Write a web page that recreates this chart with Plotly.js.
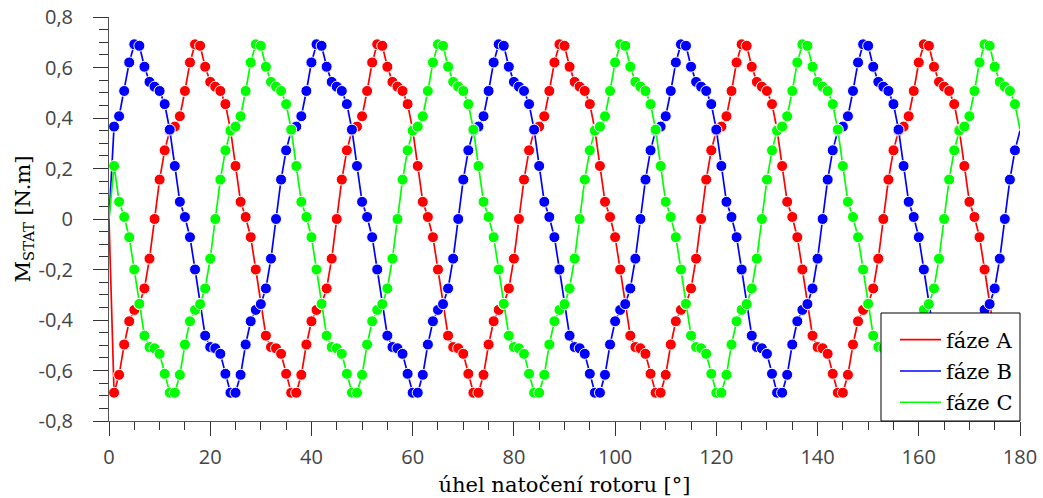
<!DOCTYPE html>
<html>
<head>
<meta charset="utf-8">
<script src="https://cdn.plot.ly/plotly-3.0.1.min.js"></script>
<style>html,body{margin:0;padding:0;background:#fff;}#chart{width:1043px;height:498px;}</style>
</head>
<body>
<div id="chart"></div>
<script>
// rotor angle samples [deg]
const angleDeg = Array.from({length: 181}, (_, i) => i);

// static torque of phase A [N.m]
const phaseA = [0,
 -0.688,-0.617,-0.497,-0.405,-0.360,-0.337,-0.275,-0.157,0.000,0.156,0.272,0.350,0.366,0.407,0.507,0.620,0.692,0.686,0.603,0.543,0.524,0.507,0.455,0.354,0.210,0.068,0.008,-0.072,-0.200,-0.336,-0.462,-0.507,-0.512,-0.534,-0.613,
 -0.688,-0.688,-0.617,-0.497,-0.405,-0.360,-0.337,-0.275,-0.157,0.000,0.156,0.272,0.350,0.366,0.407,0.507,0.620,0.692,0.686,0.603,0.543,0.524,0.507,0.455,0.354,0.210,0.068,0.008,-0.072,-0.200,-0.336,-0.462,-0.507,-0.512,-0.534,-0.613,
 -0.688,-0.688,-0.617,-0.497,-0.405,-0.360,-0.337,-0.275,-0.157,0.000,0.156,0.272,0.350,0.366,0.407,0.507,0.620,0.692,0.686,0.603,0.543,0.524,0.507,0.455,0.354,0.210,0.068,0.008,-0.072,-0.200,-0.336,-0.462,-0.507,-0.512,-0.534,-0.613,
 -0.688,-0.688,-0.617,-0.497,-0.405,-0.360,-0.337,-0.275,-0.157,0.000,0.156,0.272,0.350,0.366,0.407,0.507,0.620,0.692,0.686,0.603,0.543,0.524,0.507,0.455,0.354,0.210,0.068,0.008,-0.072,-0.200,-0.336,-0.462,-0.507,-0.512,-0.534,-0.613,
 -0.688,-0.688,-0.617,-0.497,-0.405,-0.360,-0.337,-0.275,-0.157,0.000,0.156,0.272,0.350,0.366,0.407,0.507,0.620,0.692,0.686,0.603,0.543,0.524,0.507,0.455,0.354,0.210,0.068,0.008,-0.072,-0.200,-0.336,-0.462,-0.507,-0.512,-0.534,-0.613,
 -0.688];

// static torque of phase B [N.m]
const phaseB = [0,
 0.366,0.407,0.507,0.620,0.692,0.686,0.603,0.543,0.524,0.507,0.455,0.354,0.210,0.068,0.008,-0.072,-0.200,-0.336,-0.462,-0.507,-0.512,-0.534,-0.613,
 -0.688,-0.688,-0.617,-0.497,-0.405,-0.360,-0.337,-0.275,-0.157,0.000,0.156,0.272,0.350,0.366,0.407,0.507,0.620,0.692,0.686,0.603,0.543,0.524,0.507,0.455,0.354,0.210,0.068,0.008,-0.072,-0.200,-0.336,-0.462,-0.507,-0.512,-0.534,-0.613,
 -0.688,-0.688,-0.617,-0.497,-0.405,-0.360,-0.337,-0.275,-0.157,0.000,0.156,0.272,0.350,0.366,0.407,0.507,0.620,0.692,0.686,0.603,0.543,0.524,0.507,0.455,0.354,0.210,0.068,0.008,-0.072,-0.200,-0.336,-0.462,-0.507,-0.512,-0.534,-0.613,
 -0.688,-0.688,-0.617,-0.497,-0.405,-0.360,-0.337,-0.275,-0.157,0.000,0.156,0.272,0.350,0.366,0.407,0.507,0.620,0.692,0.686,0.603,0.543,0.524,0.507,0.455,0.354,0.210,0.068,0.008,-0.072,-0.200,-0.336,-0.462,-0.507,-0.512,-0.534,-0.613,
 -0.688,-0.688,-0.617,-0.497,-0.405,-0.360,-0.337,-0.275,-0.157,0.000,0.156,0.272,0.350,0.366,0.407,0.507,0.620,0.692,0.686,0.603,0.543,0.524,0.507,0.455,0.354,0.210,0.068,0.008,-0.072,-0.200,-0.336,-0.462,-0.507,-0.512,-0.534,-0.613,
 -0.688,-0.688,-0.617,-0.497,-0.405,-0.360,-0.337,-0.275,-0.157,0.000,0.156,0.272,0.350];

// static torque of phase C [N.m]
const phaseC = [0,
 0.210,0.068,0.008,-0.072,-0.200,-0.336,-0.462,-0.507,-0.512,-0.534,-0.613,
 -0.688,-0.688,-0.617,-0.497,-0.405,-0.360,-0.337,-0.275,-0.157,0.000,0.156,0.272,0.350,0.366,0.407,0.507,0.620,0.692,0.686,0.603,0.543,0.524,0.507,0.455,0.354,0.210,0.068,0.008,-0.072,-0.200,-0.336,-0.462,-0.507,-0.512,-0.534,-0.613,
 -0.688,-0.688,-0.617,-0.497,-0.405,-0.360,-0.337,-0.275,-0.157,0.000,0.156,0.272,0.350,0.366,0.407,0.507,0.620,0.692,0.686,0.603,0.543,0.524,0.507,0.455,0.354,0.210,0.068,0.008,-0.072,-0.200,-0.336,-0.462,-0.507,-0.512,-0.534,-0.613,
 -0.688,-0.688,-0.617,-0.497,-0.405,-0.360,-0.337,-0.275,-0.157,0.000,0.156,0.272,0.350,0.366,0.407,0.507,0.620,0.692,0.686,0.603,0.543,0.524,0.507,0.455,0.354,0.210,0.068,0.008,-0.072,-0.200,-0.336,-0.462,-0.507,-0.512,-0.534,-0.613,
 -0.688,-0.688,-0.617,-0.497,-0.405,-0.360,-0.337,-0.275,-0.157,0.000,0.156,0.272,0.350,0.366,0.407,0.507,0.620,0.692,0.686,0.603,0.543,0.524,0.507,0.455,0.354,0.210,0.068,0.008,-0.072,-0.200,-0.336,-0.462,-0.507,-0.512,-0.534,-0.613,
 -0.688,-0.688,-0.617,-0.497,-0.405,-0.360,-0.337,-0.275,-0.157,0.000,0.156,0.272,0.350,0.366,0.407,0.507,0.620,0.692,0.686,0.603,0.543,0.524,0.507,0.455,0.354];

const seriesNames = ['fáze A', 'fáze B', 'fáze C'];
const xTickVals = [0, 20, 40, 60, 80, 100, 120, 140, 160, 180];
const yTickVals = [-0.8, -0.6, -0.4, -0.2, 0, 0.2, 0.4, 0.6, 0.8];
const yTickText = ['-0,8', '-0,6', '-0,4', '-0,2', '0', '0,2', '0,4', '0,6', '0,8'];

const colors = ['#ff0000', '#0000ff', '#00ff00'];
const seriesValues = [phaseA, phaseB, phaseC];

// markers shown on every sample except the line end points
const markerSizes = angleDeg.map((_, i) => (i === 0 || i === angleDeg.length - 1) ? 0 : 11);

const traces = [];
seriesValues.forEach((vals, k) => {
  traces.push({
    type: 'scatter', mode: 'lines+markers',
    x: angleDeg, y: vals,
    line: {color: colors[k], width: 1.7},
    marker: {color: colors[k], size: markerSizes, opacity: 1},
    showlegend: false, hoverinfo: 'x+y'
  });
});
seriesValues.forEach((vals, k) => {
  traces.push({
    type: 'scatter', mode: 'lines',
    x: [null], y: [null],
    name: seriesNames[k], legendgroup: 'g' + k,
    line: {color: colors[k], width: 1.6},
    showlegend: true
  });
});

const tickFont = {family: 'Open Sans', size: 20, color: '#444'};
const titleFont = {family: 'DejaVu Serif', size: 21, color: '#000'};

const layout = {
  width: 1043, height: 498,
  margin: {l: 109, r: 23, t: 17, b: 77, pad: 0},
  paper_bgcolor: '#fff', plot_bgcolor: '#fff',
  showlegend: true,
  legend: {
    x: (895 - 109) / 911, xanchor: 'left', y: (421 - 319.5) / 404, yanchor: 'top',
    bgcolor: 'rgba(0,0,0,0)', borderwidth: 0,
    font: {family: 'DejaVu Serif', size: 21, color: '#000'},
    itemwidth: 41, tracegroupgap: 1
  },
  shapes: [{
    type: 'rect', xref: 'paper', yref: 'paper', layer: 'above',
    x0: (881 - 109) / 911, x1: 1, y0: 0, y1: (421 - 313) / 404,
    fillcolor: '#fff', line: {color: '#000', width: 1}
  }],
  xaxis: {
    range: [0, 180], tickmode: 'array', tickvals: xTickVals,
    ticks: 'outside', ticklen: 14, tickwidth: 1, tickcolor: '#333',
    showline: true, linecolor: '#555', linewidth: 1,
    showgrid: false, zeroline: false,
    minor: {tickmode: 'linear', tick0: 0, dtick: 5, ticks: 'outside', ticklen: 8, tickwidth: 1, tickcolor: '#333', showgrid: false},
    tickfont: tickFont, ticklabelstandoff: 4,
    title: {text: 'úhel natočení rotoru [°]', font: titleFont, standoff: 8},
    automargin: false
  },
  yaxis: {
    range: [-0.8, 0.8], tickmode: 'array', tickvals: yTickVals, ticktext: yTickText,
    ticks: 'outside', ticklen: 15, tickwidth: 1, tickcolor: '#333',
    showline: true, linecolor: '#555', linewidth: 1,
    showgrid: false, zeroline: false,
    minor: {tickmode: 'linear', tick0: 0, dtick: 0.05, ticks: 'outside', ticklen: 9, tickwidth: 1, tickcolor: '#333', showgrid: false},
    tickfont: tickFont, ticklabelstandoff: 16,
    title: {text: 'M<sub>STAT</sub> [N.m]', font: titleFont, standoff: 2},
    automargin: false
  }
};

Plotly.newPlot('chart', traces, layout, {staticPlot: true, displayModeBar: false});
</script>
</body>
</html>
